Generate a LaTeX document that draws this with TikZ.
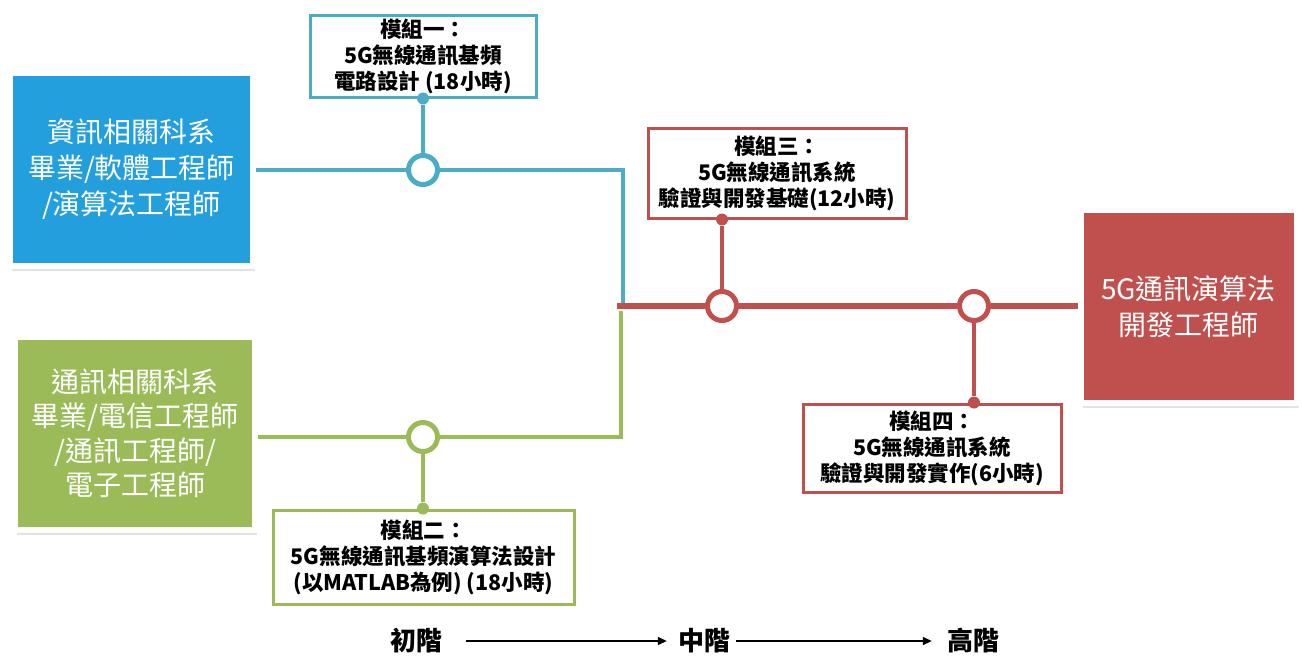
\documentclass[tikz,border=0pt]{standalone}
\usepackage{fontspec}
\setmainfont{Noto Sans CJK TC}
\usetikzlibrary{shadows,arrows.meta}
\definecolor{cblue}{HTML}{229FDC}
\definecolor{bline}{HTML}{4BACC6}
\definecolor{cgreen}{HTML}{9BBB59}
\definecolor{cred}{HTML}{C0504D}
\pgfdeclarelayer{bg}
\pgfsetlayers{bg,main}
\tikzset{
  bigbox/.style={draw=white, line width=6pt, text=white, align=center,
    font=\fontsize{28}{36}\selectfont, inner sep=0pt,
    drop shadow={shadow xshift=2pt, shadow yshift=-5pt, opacity=0.22}},
  modbox/.style={draw=#1, fill=white, line width=3pt, align=center,
    font=\bfseries\fontsize{21.5}{26}\selectfont, inner sep=0pt},
  hub/.style={circle, draw=#1, fill=white, line width=5pt, minimum size=29pt, inner sep=0pt,
    drop shadow={shadow xshift=0.5pt, shadow yshift=-2.5pt, opacity=0.22}},
  dot/.style={circle, fill=#1, minimum size=12pt, inner sep=0pt},
  wire/.style={draw=#1, line width=4pt},
  level/.style={font=\bfseries\fontsize{26}{30}\selectfont, inner sep=0pt},
  stage/.style={line width=1.4pt, -{Triangle[length=9pt,width=8pt]}}
}
\begin{document}
\begin{tikzpicture}[x=1pt,y=-1pt]
\useasboundingbox (0,0) rectangle (1302,657);
% main boxes
\node[bigbox, fill=cblue, minimum width=243, minimum height=193] (src1) at (131.5,169.5)
  {資訊相關科系\\畢業/軟體工程師\\/演算法工程師};
\node[bigbox, fill=cgreen, minimum width=240, minimum height=193, font=\fontsize{28}{34.5}\selectfont] (src2) at (135,433.5)
  {通訊相關科系\\畢業/電信工程師\\/通訊工程師/\\電子工程師};
\node[bigbox, fill=cred, minimum width=216, minimum height=193] (dst) at (1188.5,306.5)
  {5G通訊演算法\\開發工程師};
% module boxes
\node[modbox=bline, minimum width=226, minimum height=82] (m1) at (423,56)
  {模組一：\\5G無線通訊基頻\\電路設計 (18小時)};
\node[modbox=cgreen, minimum width=301, minimum height=94] (m2) at (423.5,557)
  {模組二：\\5G無線通訊基頻演算法設計\\(以MATLAB為例) (18小時)};
\node[modbox=cred, minimum width=258, minimum height=90] (m3) at (777,173)
  {模組三：\\5G無線通訊系統\\驗證與開發基礎(12小時)};
\node[modbox=cred, minimum width=258, minimum height=88] (m4) at (932,448)
  {模組四：\\5G無線通訊系統\\驗證與開發實作(6小時)};
% hubs
\node[hub=bline] (c1) at (423,170) {};
\node[hub=cgreen] (c2) at (423,437) {};
\node[hub=cred] (c3) at (722,306) {};
\node[hub=cred] (c4) at (974,306) {};
% junction coordinates
\coordinate (jb1) at (623,170);
\coordinate (jb2) at (623,304);
\coordinate (jg1) at (621,437);
\coordinate (jg2) at (621,311);
\coordinate (jr) at (617,306);
% dots on module boxes
\node[dot=bline] (d1) at (c1 |- m1.south) {};
\node[dot=cgreen] (d2) at (c2 |- m2.north) {};
\node[dot=cred] (d3) at (c3 |- m3.south) {};
\node[dot=cred] (d4) at (c4 |- m4.north) {};
\begin{pgfonlayer}{bg}
\draw[wire=bline] (src1.east |- c1) -- (c1) -- (jb1) -- (jb2);
\draw[wire=bline] (c1) -- (d1);
\draw[wire=cgreen] (src2.east |- c2) -- (c2) -- (jg1) -- (jg2);
\draw[wire=cgreen] (c2) -- (d2);
\draw[wire=cred, line width=6pt] (jr) -- (c3) -- (c4) -- (dst.west |- c4);
\draw[wire=cred] (c3) -- (d3);
\draw[wire=cred] (c4) -- (d4);
\end{pgfonlayer}
% levels
\node[level] (l1) at (416,641) {初階};
\node[level] (l2) at (704,641) {中階};
\node[level] (l3) at (973,641) {高階};
\draw[stage, shorten <=24pt, shorten >=11pt] (l1.east) -- (l2.west);
\draw[stage, shorten <=6pt, shorten >=15pt] (l2.east) -- (l3.west);
\end{tikzpicture}
\end{document}
